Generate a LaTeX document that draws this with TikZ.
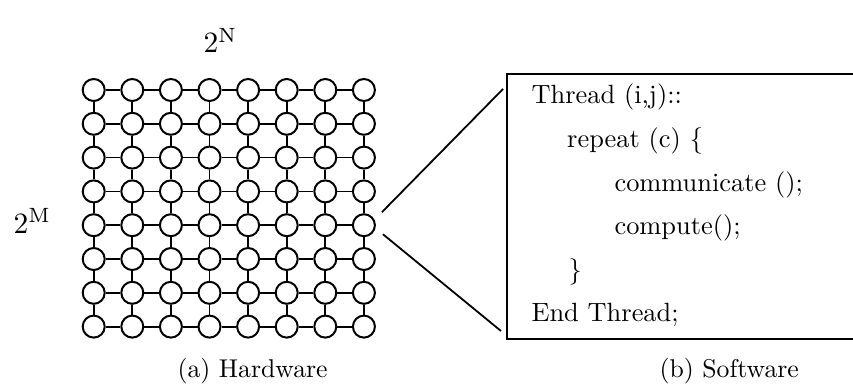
\documentclass[tikz,border=0pt]{standalone}
\usetikzlibrary{calc}
\tikzset{
  pe/.style={circle, draw, line width=2pt, minimum size=22pt, inner sep=0pt},
  link/.style={line width=1.8pt},
  codeline/.style={anchor=base west, inner sep=0pt, scale=2.64},
  caption/.style={anchor=base west, inner sep=0pt, scale=2.57},
  dimlabel/.style={anchor=base west, inner sep=0pt, scale=2.95},
}
\begin{document}
\begin{tikzpicture}[x=1pt, y=-1pt]
\useasboundingbox (0,0) rectangle (853,390);

% 8 x 8 mesh of processing elements
\foreach \r in {0,...,7}
  \foreach \c in {0,...,7}
    \node[pe] (n\r\c) at ({93.7+38.6*\c},{90+33.8*\r}) {};
\foreach \r in {0,...,7}
  \foreach \c [count=\d] in {0,...,6}
    \draw[link] (n\r\c) -- (n\r\d);
\foreach \c in {0,...,7}
  \foreach \r [count=\s] in {0,...,6}
    \draw[link] (n\r\c) -- (n\s\c);

% dimension labels
\node[dimlabel] (dn) at (203,53) {$2^{\mathrm{N}}$};
\node[dimlabel] (dm) at (13,233) {$2^{\mathrm{M}}$};

% program box (open on the right)
\coordinate (btl) at (507,74);
\coordinate (bbl) at (507,339);
\coordinate (btr) at (860,74);
\coordinate (bbr) at (860,339);
\draw[line width=2.5pt] (btr) -- (btl) -- (bbl) -- (bbr);

% zoom lines from one element to the box
\coordinate (zt) at (503,89);
\coordinate (zb) at (501,331);
\draw[line width=1.8pt] ($(n47.center)+(18,-13)$) -- (zt);
\draw[line width=1.8pt] ($(n47.center)+(19,9)$) -- (zb);

% thread code
\node[codeline] (l1) at (531,104)   {Thread (i,j)::};
\node[codeline] (l2) at (566.7,147.5) {repeat (c) \{};
\node[codeline] (l3) at (614,191)   {communicate ();};
\node[codeline] (l4) at (614,234.5) {compute();};
\node[codeline] (l5) at (568,278)   {\}};
\node[codeline] (l6) at (531,321.5) {End Thread;};

% captions
\node[caption] (ca) at (177,377) {(a) Hardware};
\node[caption] (cb) at (659,377) {(b) Software};
\end{tikzpicture}
\end{document}
